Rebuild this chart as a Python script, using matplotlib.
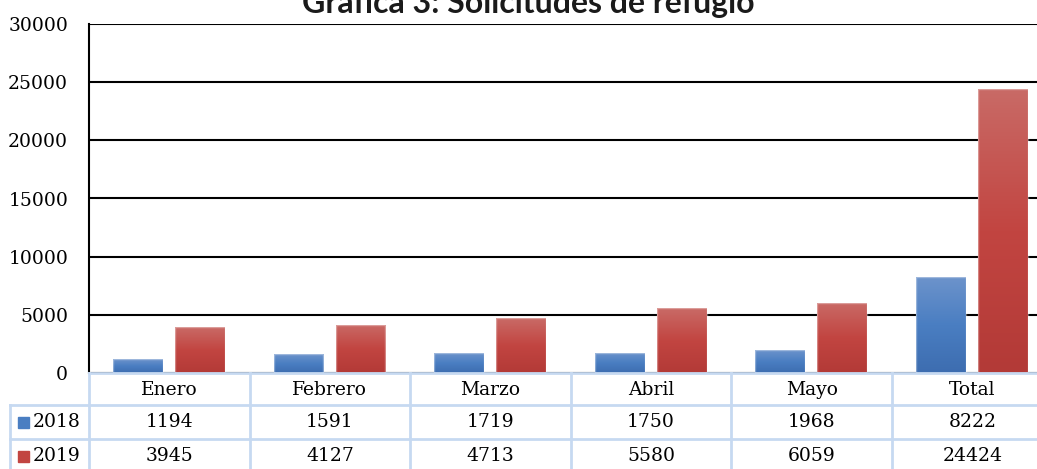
import matplotlib
matplotlib.use("Agg")
import matplotlib.pyplot as plt
import numpy as np
from matplotlib.colors import LinearSegmentedColormap

# Data
months = ["Enero", "Febrero", "Marzo", "Abril", "Mayo", "Total"]
series = ["2018", "2019"]
v2018 = [1194, 1591, 1719, 1750, 1968, 8222]
v2019 = [3945, 4127, 4713, 5580, 6059, 24424]

W, H = 1037, 469
col_w = 160.6
left = 89
fig = plt.figure(figsize=(W / 100, H / 100), dpi=100)
# the chart is wider than the picture: its right side is cropped, as in the original
ax = fig.add_axes([left / W, (H - 373) / H, col_w * len(months) / W, (373 - 24) / H])

serif = "DejaVu Serif"
blue_cm = LinearSegmentedColormap.from_list("b", ["#6c93cb", "#4a7ec2", "#3d6db0"])
red_cm = LinearSegmentedColormap.from_list("r", ["#c96a66", "#c24541", "#b33a37"])
grad = np.linspace(0, 1, 100).reshape(-1, 1)

x = np.arange(len(months))
bw = 0.31
for vals, off, cm in [(v2018, -0.195, blue_cm), (v2019, 0.19, red_cm)]:
    bars = ax.bar(x + off, vals, bw, color="none", edgecolor="none", zorder=3)
    for b in bars:
        x0, y0 = b.get_x(), b.get_y()
        im = ax.imshow(grad, cmap=cm, aspect="auto", zorder=3,
                       extent=[x0, x0 + b.get_width(), y0, y0 + b.get_height()])
        im.set_clip_path(b)
        ax.add_patch(plt.Rectangle((x0, y0), b.get_width(), b.get_height(),
                                   fill=False, edgecolor=(1, 1, 1, 0.35), lw=1, zorder=4))

ax.set_xlim(-0.5, len(months) - 0.5)
ax.set_ylim(0, 30000)
ax.set_yticks(range(0, 30001, 5000))
ax.yaxis.grid(True, color="black", linewidth=1.5, zorder=1)
ax.set_axisbelow(True)
ax.set_xticks([])
for s in ["top", "right", "bottom"]:
    ax.spines[s].set_visible(False)
ax.spines["left"].set_linewidth(1.5)
ax.tick_params(axis="y", length=0, pad=15, labelsize=13.5)
for t in ax.get_yticklabels():
    t.set_fontfamily(serif)

# Title (partly cut off at the top, as in the original)
fig.text(528 / W, 1 - 13 / H, "Gráfica 3: Solicitudes de refugio", ha="center",
         va="baseline", fontsize=23, fontweight="bold", family="Lato", color="#1a1a1a")

# Data table under the axis
lc = "#c6d9f1"
def px(xp, yp):
    return xp / W, 1 - yp / H

edges = [left + i * col_w for i in range(len(months) + 1)]
fig.add_artist(plt.Line2D([left / W, 1], [1 - 373 / H] * 2, color=lc, lw=2))
for yy in [405, 439]:
    fig.add_artist(plt.Line2D([10 / W, 1], [1 - yy / H] * 2, color=lc, lw=2))
for ex in edges[:-1]:
    fig.add_artist(plt.Line2D([ex / W] * 2, [1 - 373 / H, 0], color=lc, lw=2))
fig.add_artist(plt.Line2D([10 / W] * 2, [1 - 405 / H, 0], color=lc, lw=2))

for i, m in enumerate(months):
    cx = (edges[i] + edges[i + 1]) / 2
    fig.text(*px(cx, 390), m, ha="center", va="center", fontsize=13.5, family=serif)
    fig.text(*px(cx, 422), str(v2018[i]), ha="center", va="center", fontsize=13.5, family=serif)
    fig.text(*px(cx, 456), str(v2019[i]), ha="center", va="center", fontsize=13.5, family=serif)

for yy, lab, col in [(422, "2018", "#4a7ec2"), (456, "2019", "#c24541")]:
    fig.add_artist(plt.Rectangle(px(18, yy + 5.5), 11 / W, 11 / H, color=col))
    fig.text(*px(33, yy), lab, ha="left", va="center", fontsize=13.5, family=serif)

fig.savefig("out.png", dpi=100)
